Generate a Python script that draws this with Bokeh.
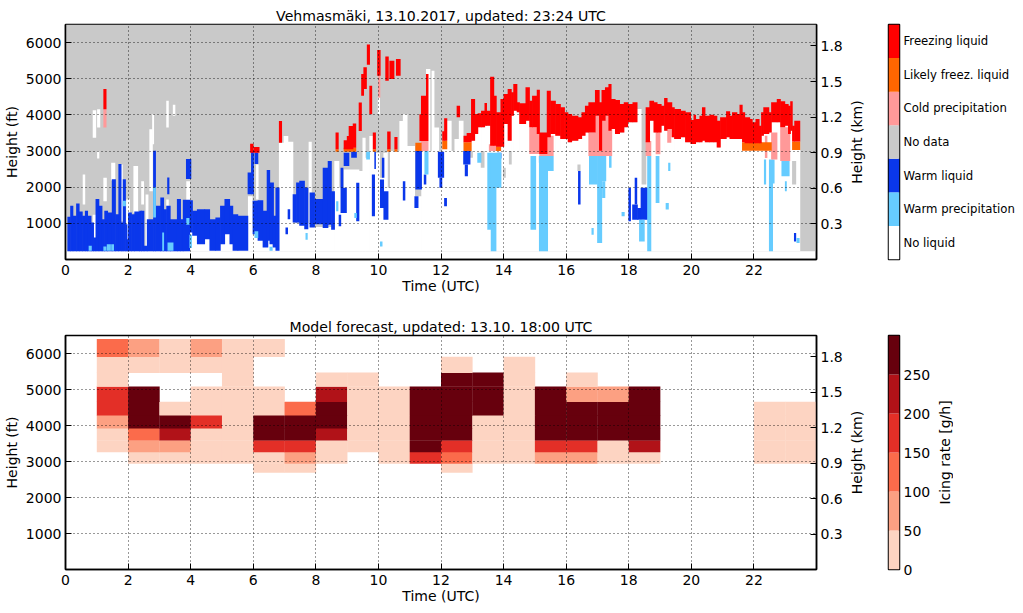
from bokeh import plotting as bk
from bokeh.embed import file_html
from bokeh.layouts import column, row
from bokeh.models import FixedTicker, LinearAxis, Range1d
from bokeh.resources import INLINE
import numpy as np

FONT = "DejaVu Sans"
FT_TOP = 6500
KM_TOP = FT_TOP * 0.0003048
# bars are widened a bit so neighbours do not show a seam in the svg
SEAM_HOURS = 0.02
SEAM_FT = 10

# Observed classes: (start hour, end hour, low ft, high ft)
no_data = [(0, 24, 230, 6500)]

no_liquid = [
    (0.55, 0.61, 1519, 2352), (0.87, 0.96, 3371, 4130), (0.87, 0.96, 593, 1241),
    (1.01, 1.09, 3648, 4158), (1.01, 1.06, 2797, 3000), (1.21, 1.30, 1611, 2259),
    (1.46, 1.57, 2185, 2676), (1.76, 1.81, 1056, 2630), (1.94, 2.04, 546, 1658),
    (2.17, 2.30, 1287, 2584), (2.42, 2.49, 1519, 2167), (2.56, 2.63, 361, 1796),
    (2.68, 2.77, 1889, 3602), (2.77, 2.81, 3185, 4019), (3.22, 3.28, 3648, 4389),
    (3.22, 3.28, 963, 1658), (3.43, 3.49, 3973, 4278), (3.86, 3.96, 230, 2167),
    (3.94, 6.82, 230, 1000), (5.83, 5.96, 230, 1750), (6.09, 6.15, 1658, 2630),
    (6.82, 6.97, 230, 3232), (6.97, 7.10, 230, 3417), (7.10, 7.26, 230, 3260),
    (7.26, 7.77, 230, 1000), (7.77, 7.85, 230, 3260), (7.85, 8.59, 230, 900),
    (8.59, 8.73, 230, 2722), (8.73, 8.89, 230, 1982), (8.89, 9.37, 230, 2491),
    (9.37, 9.49, 230, 2445), (9.49, 9.57, 230, 3371), (9.57, 9.71, 230, 2815),
    (9.71, 9.87, 230, 3417), (9.87, 10.03, 230, 2954), (9.98, 10.03, 4019, 4482),
    (10.03, 10.16, 230, 2259), (10.16, 10.27, 230, 2954), (10.27, 10.67, 230, 3000),
    (10.67, 10.78, 230, 3834), (10.78, 10.91, 230, 4019), (10.91, 11.15, 230, 3139),
    (11.15, 11.37, 230, 1750), (11.37, 11.52, 230, 3000), (11.52, 11.64, 230, 5269),
    (11.64, 11.70, 230, 3000), (11.70, 11.77, 230, 5223), (11.77, 11.92, 230, 3648),
    (11.92, 23.46, 230, 3000), (12.18, 12.32, 3000, 3840), (12.43, 12.57, 3000, 3332),
    (12.57, 12.70, 3000, 3840), (18.26, 18.41, 3000, 4162),
]

no_data_gaps = [
    (10.30, 10.35, 1982, 3000), (12.89, 13.00, 2815, 3000), (13.27, 13.37, 2537, 3000),
    (13.98, 14.05, 2259, 2537), (14.17, 14.24, 2630, 3000), (16.36, 16.44, 2445, 2630),
    (18.41, 18.54, 2074, 4162), (23.22, 23.33, 2074, 2722),
]

warm_liquid = [
    (0.06, 0.15, 230, 1180), (0.15, 0.23, 230, 1485), (0.23, 0.34, 230, 1208),
    (0.34, 0.43, 230, 1550), (0.43, 0.53, 230, 1328), (0.53, 0.62, 230, 1208),
    (0.62, 0.70, 230, 1347), (0.70, 0.81, 230, 1208), (0.81, 0.89, 230, 1023),
    (0.89, 0.96, 230, 608), (0.96, 1.06, 230, 1670), (1.06, 1.16, 230, 1485),
    (1.16, 1.24, 230, 1116), (1.24, 1.34, 230, 1347), (1.34, 1.48, 230, 1300),
    (1.48, 1.59, 230, 2223), (1.59, 1.69, 230, 1254), (1.69, 1.77, 230, 2639),
    (1.77, 1.83, 230, 1023), (1.83, 1.91, 230, 2223), (1.91, 1.96, 230, 977),
    (1.96, 2.00, 230, 562), (2.00, 2.10, 230, 1300), (2.10, 2.20, 230, 1254),
    (2.20, 2.36, 230, 1328), (2.36, 2.42, 230, 1347), (2.42, 2.50, 230, 1347),
    (2.50, 2.60, 230, 380), (2.60, 2.80, 230, 1116), (2.80, 2.87, 230, 3008),
    (2.87, 3.03, 230, 1485), (3.03, 3.13, 230, 1715), (3.13, 3.22, 230, 1393),
    (3.22, 3.34, 230, 1485), (3.34, 3.56, 230, 1116), (3.56, 3.67, 230, 1670),
    (3.67, 3.75, 230, 1116), (3.25, 3.30, 1808, 2270), (3.85, 4.00, 2224, 2777),
    (3.75, 3.96, 230, 1650), (3.96, 4.05, 747, 1642), (4.05, 4.20, 654, 1347),
    (4.20, 4.44, 424, 1393), (4.44, 4.60, 562, 1393), (4.60, 4.79, 239, 1116),
    (4.79, 4.94, 239, 1162), (4.94, 5.08, 424, 1485), (5.08, 5.24, 700, 1670),
    (5.24, 5.34, 424, 1485), (5.34, 5.50, 239, 1254), (5.50, 5.82, 239, 1208),
    (5.82, 5.93, 1808, 2408), (5.93, 6.00, 1808, 3008), (5.98, 6.14, 700, 1624),
    (6.04, 6.14, 2640, 2962), (6.14, 6.30, 516, 1642), (6.30, 6.46, 331, 1347),
    (6.43, 6.52, 516, 2473), (6.52, 6.64, 424, 2131), (6.62, 6.71, 331, 1208),
    (6.71, 6.82, 239, 1993), (7.03, 7.09, 700, 885), (7.10, 7.16, 1116, 1393),
    (7.26, 7.37, 1023, 1808), (7.37, 7.47, 1023, 2131), (7.47, 7.63, 931, 2177),
    (7.63, 7.74, 839, 1993), (7.80, 7.95, 885, 1854), (7.95, 8.22, 977, 1670),
    (8.22, 8.38, 870, 2537), (8.38, 8.49, 963, 2722), (8.49, 8.59, 824, 1889),
    (8.73, 8.79, 917, 1241), (8.79, 8.86, 1287, 2537), (8.86, 8.97, 1287, 1982),
    (8.89, 9.05, 2585, 2954), (9.13, 9.29, 2815, 2982), (9.29, 9.37, 1056, 2120),
    (9.79, 9.87, 1195, 2352), (9.87, 9.90, 2500, 2982), (10.05, 10.16, 1424, 2213),
    (10.11, 10.17, 2259, 2815), (10.16, 10.30, 1102, 1889), (10.78, 10.84, 1630, 2167),
    (11.15, 11.26, 1426, 1750), (11.18, 11.37, 1935, 3000), (11.45, 11.51, 2074, 2352),
    (11.90, 12.08, 2259, 2982), (11.95, 12.02, 1982, 2259), (12.10, 12.17, 1472, 1704),
    (12.71, 12.92, 2630, 3000), (12.76, 12.84, 2306, 2630), (13.80, 13.91, 2797, 2954),
    (15.13, 15.24, 2676, 2861), (16.38, 16.44, 1519, 2445), (17.99, 18.05, 1056, 1982),
    (18.11, 18.27, 1102, 1519), (18.19, 18.25, 1519, 2259), (18.27, 18.38, 1102, 1426),
    (18.38, 18.59, 1102, 1982), (23.28, 23.33, 500, 732),
]

warm_precipitation = [
    (0.74, 0.82, 239, 380), (1.21, 1.29, 239, 360), (1.32, 1.43, 239, 424),
    (1.46, 1.53, 239, 424), (1.83, 1.91, 1472, 1624), (2.80, 2.87, 1160, 1990),
    (3.09, 3.13, 239, 745), (3.26, 3.43, 239, 470), (3.86, 3.94, 962, 1150),
    (3.96, 4.02, 315, 685), (6.04, 6.14, 593, 778), (6.52, 6.60, 239, 350),
    (7.67, 7.72, 546, 732), (8.65, 8.70, 1333, 1611), (9.23, 9.29, 1148, 1287),
    (9.61, 9.71, 2769, 2982), (10.05, 10.11, 361, 500), (11.47, 11.58, 2352, 3000),
    (13.16, 13.27, 2676, 2954), (13.48, 13.59, 824, 2954), (13.59, 13.75, 230, 2954),
    (13.75, 13.91, 1982, 2954), (14.86, 15.02, 824, 2861), (15.13, 15.40, 230, 2861),
    (15.40, 15.58, 2445, 2861), (16.73, 16.99, 2074, 2861), (16.99, 17.13, 454, 2861),
    (17.13, 17.26, 2167, 2861), (17.15, 17.23, 1704, 2167), (17.37, 17.43, 2537, 2861),
    (16.81, 16.86, 685, 870), (17.77, 17.85, 1195, 1315), (18.33, 18.49, 500, 1102),
    (18.59, 18.70, 230, 2861), (18.86, 18.96, 1565, 2861), (19.18, 19.26, 1380, 1565),
    (19.26, 19.31, 2445, 2676), (22.32, 22.37, 2074, 2769), (22.48, 22.59, 230, 2769),
    (22.59, 22.64, 2100, 2769), (22.88, 23.12, 2306, 2722), (22.99, 23.03, 1889, 2167),
    (23.36, 23.44, 454, 593),
]

cold_precipitation = [
    (1.21, 1.29, 3648, 4158), (9.99, 10.04, 4482, 5084), (11.36, 11.58, 3000, 3278),
    (13.53, 13.90, 3000, 3185), (14.82, 15.14, 2917, 3655), (15.14, 15.58, 2861, 3424),
    (16.71, 16.92, 2861, 3516), (16.92, 17.45, 2861, 3973), (18.54, 18.70, 2861, 3278),
    (18.86, 18.99, 2908, 3834), (19.23, 19.34, 3232, 3741), (22.35, 22.41, 2806, 3424),
    (22.55, 22.73, 2769, 3516), (22.84, 23.14, 2722, 3655),
]

likely_freezing = [
    (8.63, 8.71, 2982, 3047), (8.89, 9.27, 2982, 3093), (9.82, 9.90, 2982, 3047),
    (10.28, 10.37, 2982, 3047), (10.51, 10.59, 2982, 3047), (11.18, 11.36, 3000, 3232),
    (12.04, 12.18, 3047, 3286), (12.72, 12.96, 3000, 3240), (13.76, 13.90, 3000, 3120),
    (21.62, 22.55, 3009, 3240), (23.22, 23.46, 3029, 3267),
]

freezing_spots = [
    (1.21, 1.29, 4158, 4713), (5.90, 5.99, 2954, 3204), (6.01, 6.18, 2954, 3111),
    (6.82, 6.90, 3232, 3834), (8.63, 8.71, 3047, 3510), (8.89, 8.99, 3047, 3297),
    (8.99, 9.05, 3047, 3417), (9.05, 9.18, 3047, 3695), (9.18, 9.27, 3093, 3760),
    (9.37, 9.45, 3556, 4343), (9.45, 9.52, 4528, 5130), (9.52, 9.61, 4713, 5315),
    (9.63, 9.71, 5389, 5945), (9.71, 9.78, 4019, 4806), (9.82, 9.90, 3047, 3510),
    (9.96, 10.05, 5084, 5797), (10.22, 10.31, 4945, 5612), (10.28, 10.37, 3047, 3537),
    (10.35, 10.49, 4991, 5500), (10.51, 10.59, 3047, 3389), (10.56, 10.69, 5084, 5547),
    (11.31, 11.42, 3278, 4019), (11.36, 11.52, 3278, 4528), (11.52, 11.58, 3278, 5130),
    (12.50, 12.59, 3932, 4255),
]

freezing_band = [
    (12.04, 12.10, 3286, 3544), (12.10, 12.18, 3286, 3904), (12.72, 12.82, 3240, 3424),
    (12.82, 12.96, 3240, 3498), (12.96, 13.07, 3286, 4439), (13.07, 13.17, 3470, 4024),
    (13.17, 13.28, 3655, 4043), (13.28, 13.39, 3655, 4116), (13.39, 13.45, 3701, 4329),
    (13.45, 13.57, 3701, 4116), (13.57, 13.68, 3147, 5058), (13.68, 13.76, 3147, 4532),
    (13.76, 13.90, 3120, 4070), (13.90, 14.00, 3120, 4439), (14.00, 14.13, 3747, 4578),
    (14.13, 14.24, 3286, 4716), (14.24, 14.31, 3978, 4624), (14.31, 14.42, 4116, 4855),
    (14.42, 14.50, 4070, 4347), (14.50, 14.70, 3747, 4320), (14.70, 14.82, 3840, 4763),
    (14.82, 14.91, 3655, 4393), (14.91, 15.06, 3655, 4532), (15.06, 15.14, 3470, 4698),
    (15.14, 15.38, 2917, 3516), (15.38, 15.49, 3378, 4670), (15.49, 15.65, 3470, 4393),
    (15.65, 15.81, 3424, 4301), (15.81, 15.94, 3332, 4209), (15.94, 16.05, 3332, 4070),
    (16.05, 16.17, 3240, 4024), (16.17, 16.37, 3286, 3978), (16.37, 16.49, 3332, 3932),
    (16.49, 16.60, 3424, 4070), (16.60, 16.71, 3516, 4255), (16.71, 16.92, 3516, 4347),
    (16.92, 17.05, 3978, 4689), (17.05, 17.13, 3009, 4347), (17.13, 17.24, 3840, 4689),
    (17.24, 17.35, 3978, 4763), (17.35, 17.43, 3563, 4855), (17.43, 17.56, 3609, 4439),
    (17.56, 17.70, 3470, 4412), (17.70, 17.84, 3516, 4301), (17.84, 17.96, 3655, 4347),
    (17.96, 18.12, 3793, 4301), (18.12, 18.26, 3793, 4347), (18.54, 18.66, 3240, 4209),
    (18.66, 18.79, 3840, 4393), (18.79, 18.90, 3516, 4347), (18.90, 19.03, 3516, 4301),
    (19.03, 19.13, 3701, 4255), (19.13, 19.22, 3563, 4467), (19.22, 19.37, 3609, 4347),
    (19.37, 19.45, 3378, 4209), (19.45, 19.65, 3332, 4162), (19.65, 19.80, 3378, 4116),
    (19.80, 19.97, 3240, 4070), (19.97, 20.07, 3193, 3858), (20.07, 20.13, 3193, 4006),
    (20.13, 20.26, 3240, 3886), (20.26, 20.34, 3240, 3978), (20.34, 20.43, 3286, 4209),
    (20.43, 20.58, 3240, 3978), (20.58, 20.71, 3240, 4006), (20.71, 20.81, 3240, 3978),
    (20.81, 20.92, 3101, 3840), (20.92, 21.11, 3332, 3932), (21.11, 21.22, 3378, 4098),
    (21.22, 21.30, 3332, 3978), (21.30, 21.45, 3332, 4070), (21.45, 21.54, 3332, 4024),
    (21.54, 21.62, 3332, 4283), (21.62, 21.70, 3240, 4070), (21.70, 21.86, 3212, 3932),
    (21.86, 21.94, 3212, 3886), (21.94, 22.05, 3212, 3793), (22.05, 22.16, 3212, 3886),
    (22.16, 22.23, 3212, 3701), (22.23, 22.30, 3424, 4070), (22.30, 22.47, 3470, 4209),
    (22.47, 22.55, 3516, 4070), (22.55, 22.73, 3793, 4347), (22.73, 22.84, 3793, 4439),
    (22.84, 22.98, 3655, 4375), (22.98, 23.09, 3701, 4301), (23.09, 23.16, 3470, 4255),
    (23.16, 23.22, 3563, 4375), (23.22, 23.29, 3267, 3701), (23.29, 23.46, 3267, 3840),
]

class_names = ["No liquid", "Warm precipitation", "Warm liquid", "No data",
               "Cold precipitation", "Likely freez. liquid", "Freezing liquid"]
class_colors = ["#ffffff", "#66ccff", "#0a37eb", "#c9c9c9", "#ff9999", "#ff6600", "#ff0000"]

# Model forecast: one row per model level, one value per hour (None = no icing)
level_edges = [2690, 2940, 3260, 3580, 3920, 4280, 4650, 5075, 5460, 5900, 6390]
forecast_hours = list(range(24))
n = None
rate_level0 = [n, n, n, n, n, n, 25, 25, n, n, n, n, 25, n, n, n, n, n, n, n, n, n, n, n]
rate_level1 = [n, n, 25, 25, 25, 25, 25, 75, 25, n, 25, 175, 125, 25, 25, 75, 75, 25, 25, n, n, n, 25, 25]
rate_level2 = [n, 25, 75, 75, 25, 25, 175, 175, 25, 25, 25, 275, 175, 25, 25, 175, 175, 25, 225, n, n, n, 25, 25]
rate_level3 = [n, 25, 125, 225, 25, 25, 275, 275, 225, 25, 25, 275, 275, 25, 25, 275, 275, 275, 275, n, n, n, 25, 25]
rate_level4 = [n, 75, 275, 275, 175, 25, 275, 275, 275, 25, 25, 275, 275, 25, 25, 275, 275, 275, 275, n, n, n, 25, 25]
rate_level5 = [n, 175, 275, 25, 25, 25, 25, 125, 275, 25, 25, 275, 275, 275, 25, 275, 275, 275, 275, n, n, n, 25, 25]
rate_level6 = [n, 175, 275, n, 25, 25, 25, n, 225, 25, 25, 275, 275, 275, 25, 275, 75, 75, 275, n, n, n, n, n]
rate_level7 = [n, 25, n, n, n, 25, n, n, 25, 25, n, n, 275, 275, 25, n, 25, n, n, n, n, n, n, n]
rate_level8 = [n, 25, 25, 25, 25, 25, n, n, n, n, n, n, 25, n, 25, n, n, n, n, n, n, n, n, n]
rate_level9 = [n, 125, 75, 25, 75, 25, 25, n, n, n, n, n, n, n, n, n, n, n, n, n, n, n, n, n]
forecast_rates = [rate_level0, rate_level1, rate_level2, rate_level3, rate_level4,
                  rate_level5, rate_level6, rate_level7, rate_level8, rate_level9]

rate_edges = [0, 50, 100, 150, 200, 250, 300]
rate_colors = ["#fdd4c2", "#fca082", "#fb6b4b", "#e32f27", "#b11218", "#67000d"]

x_ticks = list(range(0, 24, 2))
ft_ticks = [1000, 2000, 3000, 4000, 5000, 6000]
km_ticks = [0.3, 0.6, 0.9, 1.2, 1.5, 1.8]


def style_axis(axis):
    axis.major_label_text_font = FONT
    axis.major_label_text_font_size = "14px"
    axis.major_label_text_color = "black"
    axis.axis_label_text_font = FONT
    axis.axis_label_text_font_size = "14px"
    axis.axis_label_text_font_style = "normal"
    axis.axis_label_text_color = "black"
    axis.axis_line_color = "black"
    axis.axis_line_width = 1.5
    axis.major_tick_line_color = "black"
    axis.major_tick_in = 6
    axis.major_tick_out = 0
    axis.minor_tick_line_color = None


def label_axis(text, standoff):
    # a left axis without ticks, only there for its upward reading label
    axis = LinearAxis(ticker=FixedTicker(ticks=[]), axis_label=text)
    style_axis(axis)
    axis.axis_line_color = None
    axis.major_tick_line_color = None
    axis.axis_label_standoff = standoff
    return axis


def make_panel(title, top, bottom, frame_height):
    p = bk.figure(frame_width=751, frame_height=frame_height,
                  x_range=Range1d(0, 24), y_range=Range1d(0, FT_TOP),
                  title=title, toolbar_location=None, output_backend="svg",
                  min_border_left=62, min_border_right=28,
                  min_border_top=top, min_border_bottom=bottom)
    p.extra_y_ranges = {"km": Range1d(0, KM_TOP)}
    p.add_layout(LinearAxis(y_range_name="km", ticker=FixedTicker(ticks=km_ticks)), "right")
    p.xaxis.ticker = FixedTicker(ticks=x_ticks)
    p.xaxis.axis_label = "Time (UTC)"
    p.yaxis[0].ticker = FixedTicker(ticks=ft_ticks)
    p.yaxis[0].axis_label = "Height (ft)"
    for axis in p.xaxis + p.yaxis:
        style_axis(axis)
    p.xaxis.axis_label_standoff = 0
    p.xaxis.major_label_standoff = 5
    for axis in p.yaxis:
        axis.axis_label_standoff = 3
        axis.major_label_standoff = 4

    p.title.align = "center"
    p.title.text_font = FONT
    p.title.text_font_size = "14.1px"
    p.title.text_font_style = "normal"
    p.title.text_color = "black"
    p.title.standoff = 2

    p.outline_line_color = "black"
    p.outline_line_width = 1.5
    p.background_fill_color = "white"
    for grid in (p.xgrid, p.ygrid):
        grid.grid_line_color = "black"
        grid.grid_line_alpha = 0.8
        grid.grid_line_dash = [1, 3]
        grid.grid_line_width = 1
        grid.level = "annotation"
    p.xgrid.ticker = FixedTicker(ticks=x_ticks)
    p.ygrid.ticker = FixedTicker(ticks=ft_ticks)
    return p


def draw_segments(p, segments, color):
    seg = np.array(segments, dtype=float)
    p.quad(left=seg[:, 0], right=seg[:, 1] + SEAM_HOURS, bottom=seg[:, 2], top=seg[:, 3],
           fill_color=color, line_color=None)


def make_colorbar(edges, colors, top, bottom, frame_height, ticks, labels, right, font_size="14px"):
    c = bk.figure(frame_width=11, frame_height=frame_height,
                  x_range=Range1d(0, 1), y_range=Range1d(edges[0], edges[-1]),
                  toolbar_location=None, output_backend="svg",
                  x_axis_location=None, y_axis_location="right",
                  min_border_left=37, min_border_right=right,
                  min_border_top=top, min_border_bottom=bottom)
    c.quad(left=0, right=1, bottom=edges[:-1], top=edges[1:],
           fill_color=colors, line_color=None)
    c.grid.visible = False
    c.outline_line_color = "black"
    c.outline_line_width = 1.5
    axis = c.yaxis[0]
    style_axis(axis)
    axis.ticker = FixedTicker(ticks=ticks)
    axis.major_label_overrides = dict(zip(ticks, labels))
    axis.major_tick_in = 0
    axis.axis_line_color = None
    axis.major_label_text_font_size = font_size
    axis.major_label_standoff = 4
    # the km label of the panel sits in the gap left of the colour bar
    c.add_layout(label_axis("Height (km)", 24), "left")
    return c


# Observation panel
p1 = make_panel("Vehmasmäki, 13.10.2017, updated: 23:24 UTC", 24, 45, 235)
draw_segments(p1, no_data, class_colors[3])
draw_segments(p1, no_liquid, class_colors[0])
# the air between the 3000 ft line and the freezing band has no liquid either
draw_segments(p1, [(t0, t1, 2950, low) for t0, t1, low, high in freezing_band], class_colors[0])
draw_segments(p1, no_data_gaps, class_colors[3])
draw_segments(p1, warm_liquid, class_colors[2])
draw_segments(p1, warm_precipitation, class_colors[1])
draw_segments(p1, cold_precipitation, class_colors[4])
draw_segments(p1, likely_freezing, class_colors[5])
draw_segments(p1, freezing_band, class_colors[6])
draw_segments(p1, freezing_spots, class_colors[6])

class_ticks = [i + 0.5 for i in range(len(class_names))]
c1 = make_colorbar(list(range(len(class_names) + 1)), class_colors, 24, 45, 235,
                   class_ticks, class_names, 113, font_size="11.7px")

# Forecast panel
p2 = make_panel("Model forecast, updated: 13.10. 18:00 UTC", 31, 35, 234)
edges = np.array(rate_edges)
for level, rates in enumerate(forecast_rates):
    for hour, rate in zip(forecast_hours, rates):
        if rate is None:
            continue
        color = rate_colors[np.searchsorted(edges, rate) - 1]
        p2.quad(left=hour, right=hour + 1 + SEAM_HOURS / 2, bottom=level_edges[level],
                top=level_edges[level + 1] + SEAM_FT,
                fill_color=color, line_color=None)

c2 = make_colorbar(rate_edges, rate_colors, 31, 35, 234, rate_edges[:-1],
                   [str(v) for v in rate_edges[:-1]], 30)

# empty strip that only carries the colour bar title
icing_label = bk.figure(frame_width=1, frame_height=234,
                        x_range=Range1d(0, 1), y_range=Range1d(0, 1),
                        toolbar_location=None, output_backend="svg",
                        x_axis_location=None, y_axis_location=None,
                        min_border_left=11, min_border_right=0,
                        min_border_top=31, min_border_bottom=35)
icing_label.grid.visible = False
icing_label.outline_line_color = None
icing_label.add_layout(label_axis("Icing rate [g/h]", 0), "left")

layout = column(row(p1, c1, spacing=0), row(p2, c2, icing_label, spacing=0), spacing=0)
open("out.html", "w").write(file_html(layout, INLINE))
